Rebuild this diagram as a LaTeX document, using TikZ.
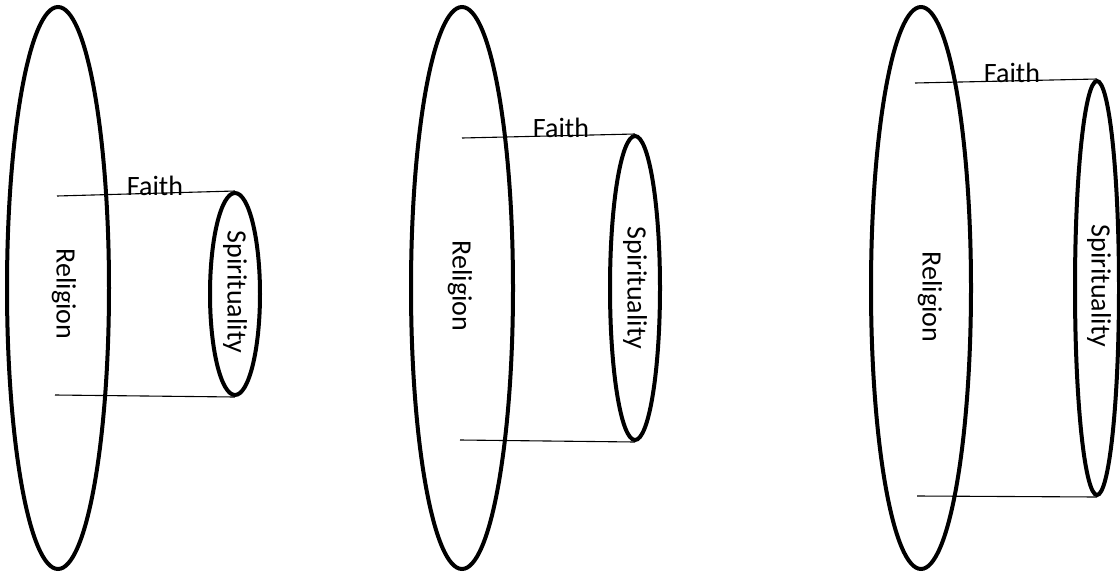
\documentclass[tikz,border=0pt]{standalone}
\usepackage{fontspec}
\setmainfont{Carlito}
\usetikzlibrary{shapes.geometric}

\begin{document}
\begin{tikzpicture}[x=1pt, y=-1pt,
    ring/.style={ellipse, draw, line width=4pt, inner sep=0pt},
    rim/.style={line width=1.1pt},
    word/.style={font=\fontsize{28}{34}\selectfont, inner sep=0pt}]
    \useasboundingbox (0,0) rectangle (1120,576);

    % Draw nodes
    \node[ring, minimum width=102pt, minimum height=562pt] (rel1) at (58,288) {};
    \node[ring, minimum width=50pt, minimum height=202pt] (spi1) at (235,294) {};
    \node[ring, minimum width=102pt, minimum height=562pt] (rel2) at (462,288) {};
    \node[ring, minimum width=50pt, minimum height=304pt] (spi2) at (635,288) {};
    \node[ring, minimum width=100pt, minimum height=562pt] (rel3) at (921,288) {};
    \node[ring, minimum width=44pt, minimum height=414pt] (spi3) at (1097,288) {};

    % Free ends inside Religion
    \coordinate (top1) at (57,196);
    \coordinate (bot1) at (55,395);
    \coordinate (top2) at (462,138);
    \coordinate (bot2) at (460,440);
    \coordinate (top3) at (915,83);
    \coordinate (bot3) at (917,496);

    % Draw connections
    \draw[rim] (top1) -- (spi1.north);
    \draw[rim] (bot1) -- (spi1.south);
    \draw[rim] (top2) -- (spi2.north);
    \draw[rim] (bot2) -- (spi2.south);
    \draw[rim] (top3) -- (spi3.north);
    \draw[rim] (bot3) -- (spi3.south);

    % Labels
    \node[word, anchor=base] (faith1) at (155,195) {Faith};
    \node[word, anchor=base] (faith2) at (561,137) {Faith};
    \node[word, anchor=base] (faith3) at (1012,82) {Faith};
    \node[word, rotate=-90] (relt1) at (64,294) {Religion};
    \node[word, rotate=-90] (relt2) at (460,286) {Religion};
    \node[word, rotate=-90] (relt3) at (930,297) {Religion};
    \node[word, rotate=-90] (spit1) at (235,292) {Spirituality};
    \node[word, rotate=-90] (spit2) at (635,288) {Spirituality};
    \node[word, rotate=-90] (spit3) at (1099,286) {Spirituality};
\end{tikzpicture}
\end{document}
